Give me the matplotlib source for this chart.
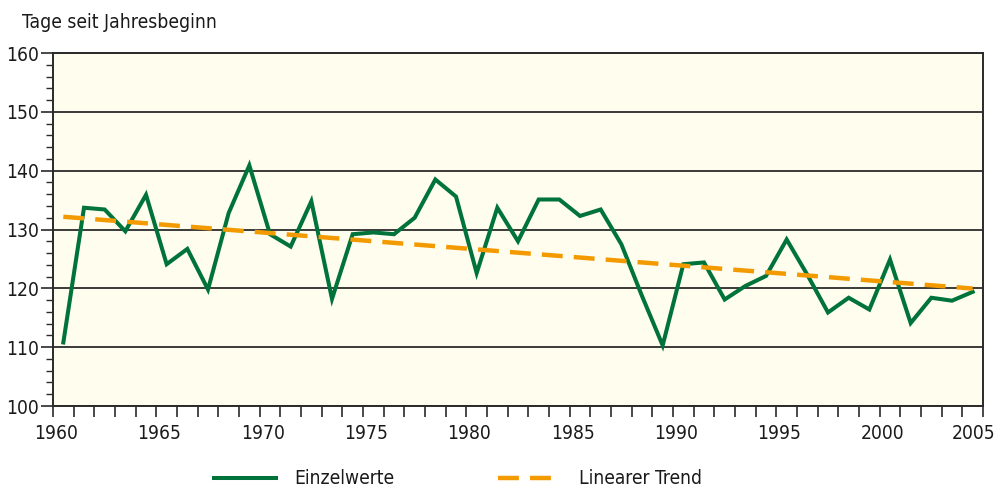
import numpy as np
import matplotlib
matplotlib.use("Agg")
import matplotlib.pyplot as plt
from matplotlib.ticker import MultipleLocator
from matplotlib.lines import Line2D
from matplotlib.transforms import ScaledTranslation

years = list(range(1960, 2005))
values = [110.8, 133.7, 133.4, 129.7, 135.9, 124.1, 126.7, 119.8, 132.8, 140.9,
          129.2, 127.1, 134.8, 118.2, 129.2, 129.5, 129.2, 132.0, 138.5, 135.6,
          122.6, 133.7, 128.0, 135.1, 135.1, 132.3, 133.4, 127.5, 118.7, 110.3,
          124.1, 124.4, 118.1, 120.4, 122.1, 128.3, 122.3, 115.9, 118.4, 116.4,
          124.9, 114.1, 118.4, 117.9, 119.4]
y_label = "Tage seit Jahresbeginn"
series_name = "Einzelwerte"
trend_name = "Linearer Trend"
xtick_years = list(range(1960, 2006, 5))

plt.rcParams['font.family'] = ['DejaVu Sans']
plt.rcParams['font.stretch'] = 'condensed'

fig = plt.figure(figsize=(10.05, 4.88), dpi=100)
ax = fig.add_axes([53/1005, 82/488, 930/1005, 353/488])
ax.set_facecolor('#FEFDEE')

x = np.array(years) + 0.5
v = np.array(values)
coef = np.polyfit(x, v, 1)
trend = np.polyval(coef, x)

green = '#00733A'
orange = '#F39A00'
ax.plot(x, v, color=green, lw=2.9, solid_joinstyle='miter', zorder=3)
ax.plot(x, trend, color=orange, lw=3.2, dashes=(4.7, 2.5), zorder=4)

ax.set_xlim(1960, 2005)
ax.set_ylim(100, 160)
ax.set_xticks(xtick_years)
ax.xaxis.set_minor_locator(MultipleLocator(1))
ax.yaxis.set_major_locator(MultipleLocator(10))
ax.yaxis.set_minor_locator(MultipleLocator(2))
ax.grid(axis='y', which='major', color='#3a3a3a', lw=1.4, zorder=1)
for s in ax.spines.values():
    s.set_color('#2a2a2a')
    s.set_linewidth(1.4)
ax.tick_params(axis='x', which='both', direction='out', length=8, width=1.2,
               color='#2a2a2a', labelsize=13.8, pad=5)
ax.tick_params(axis='y', which='major', direction='out', length=9, width=1.2,
               color='#2a2a2a', labelsize=13.8, pad=1)
ax.tick_params(axis='y', which='minor', direction='out', length=5, width=1.0,
               color='#2a2a2a')
xlabels = ax.get_xticklabels()
for i, lab in enumerate(xlabels):
    dx = 3 if i < len(xlabels) - 1 else -9
    lab.set_transform(lab.get_transform() +
                      ScaledTranslation(dx/100, 0, fig.dpi_scale_trans))
    lab.set_color('#1a1a1a')
for lab in ax.get_yticklabels():
    lab.set_color('#1a1a1a')

fig.text(22/1005, 1 - 22/488, y_label, fontsize=13.9, color='#1a1a1a',
         ha='left', va='center')

handles = [Line2D([], [], color=green, lw=2.9),
           Line2D([], [], color=orange, lw=3.2, dashes=(4.7, 2.5))]
leg = fig.legend(handles, [series_name, trend_name], loc='center',
                 bbox_to_anchor=(458/1005, 1 - 479/488), ncol=2, frameon=False,
                 fontsize=13.8, handlelength=3.2, handletextpad=1.0,
                 columnspacing=5.4)
for t in leg.get_texts():
    t.set_color('#1a1a1a')

fig.savefig('out.png', dpi=100)
